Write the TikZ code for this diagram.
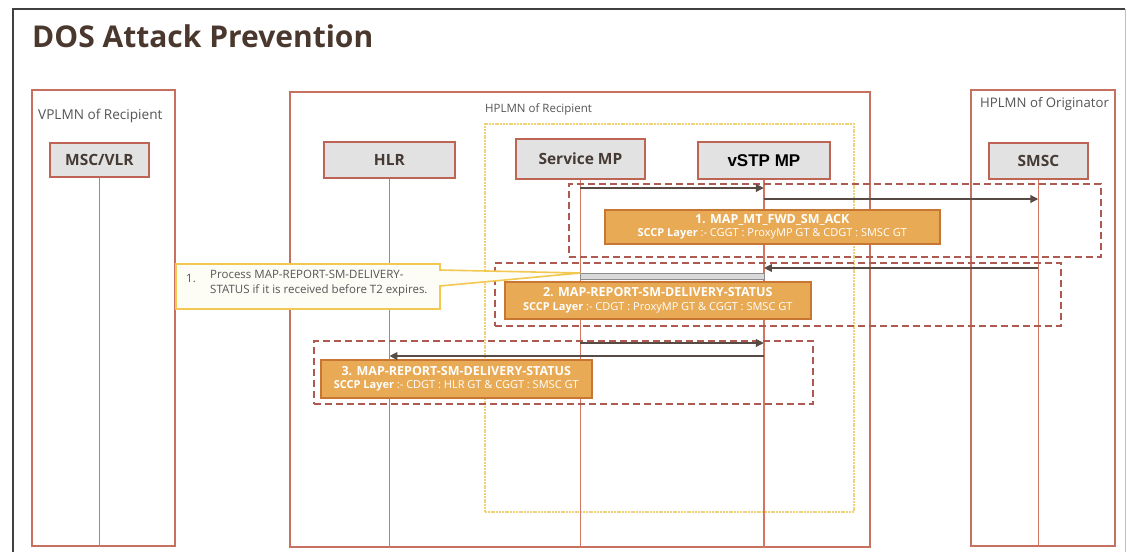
\documentclass[tikz,border=0pt]{standalone}
\usepackage{fontspec}
\setmainfont{Open Sans}
\newfontfamily\arialf{Liberation Sans}
\usetikzlibrary{arrows.meta}
\definecolor{regC}{RGB}{198,112,96}
\definecolor{lifeC}{RGB}{210,118,100}
\definecolor{actC}{RGB}{190,100,85}
\definecolor{actF}{RGB}{226,226,226}
\definecolor{actT}{RGB}{70,58,52}
\definecolor{dashC}{RGB}{175,90,80}
\definecolor{oraF}{RGB}{232,170,84}
\definecolor{oraB}{RGB}{200,118,52}
\definecolor{msgC}{RGB}{88,74,68}
\definecolor{titleC}{RGB}{74,56,46}
\definecolor{lblC}{RGB}{85,85,85}
\definecolor{yelC}{RGB}{240,210,120}
\definecolor{calF}{RGB}{253,252,245}
\definecolor{calB}{RGB}{242,200,80}
\tikzset{
  region/.style={draw=regC, line width=1.8pt, anchor=north west, inner sep=0pt},
  actor/.style={draw=actC, fill=actF, line width=1.8pt, anchor=north west, inner sep=0pt,
     font=\bfseries\fontsize{15.5}{17}\selectfont, text=actT},
  life/.style={draw=lifeC, line width=1.5pt},
  msg/.style={draw=msgC, line width=2.2pt, -{Triangle[length=8pt,width=7.5pt]}},
  dbox/.style={draw=dashC, line width=1.8pt, dash pattern=on 7pt off 4pt, anchor=north west, inner sep=0pt},
  obox/.style={draw=oraB, fill=oraF, line width=1.5pt, anchor=north west, inner sep=0pt,
     text=white, align=center},
  lbl/.style={text=lblC, inner sep=0pt, anchor=west},
}
\newcommand{\oline}[1]{{\bfseries\fontsize{12.5}{15}\selectfont #1}}
\newcommand{\sline}[1]{{\fontsize{11}{14}\selectfont #1}}
\begin{document}
\begin{tikzpicture}[x=1pt,y=-1pt]
\useasboundingbox (0,0) rectangle (1128,552);
\fill[white] (0,0) rectangle (1128,552);
% frame
\coordinate (fBL) at (13,552);
\coordinate (fTL) at (13,9);
\coordinate (fTR) at (1125,9);
\coordinate (fBR) at (1125,552);
\draw[black!75, line width=1.4pt] (fBL) -- (fTL) -- (fTR);
\draw[black!25, line width=0.8pt] (fTR) -- (fBR);
% title
\node[anchor=west, inner sep=0pt, text=titleC, font=\bfseries\fontsize{30}{34}\selectfont] (title) at (32,36) {DOS Attack Prevention};
% regions
\node[region, minimum width=143, minimum height=456] (vplmn) at (31,89) {};
\node[lbl, font=\fontsize{13.6}{15}\selectfont] (vplmnL) at (38,116) {VPLMN of Recipient};
\node[region, minimum width=580, minimum height=455] (hplmnR) at (289,91) {};
\node[lbl, font=\fontsize{11.5}{14}\selectfont] (hplmnRL) at (485,109) {HPLMN of Recipient};
\node[region, minimum width=144, minimum height=456] (hplmnO) at (970,89) {};
\node[lbl, font=\fontsize{13.2}{15}\selectfont] (hplmnOL) at (980,104) {HPLMN of Originator};
% yellow dotted box
\node[draw=yelC, line width=1.8pt, dash pattern=on 2pt off 0.8pt, anchor=north west, inner sep=0pt,
      minimum width=369, minimum height=388] (yel) at (484,123) {};
% actors
\node[actor, minimum width=99, minimum height=34] (msc) at (49,142) {MSC/VLR};
\node[actor, minimum width=131, minimum height=36] (hlr) at (323,141) {HLR};
\node[actor, minimum width=129, minimum height=40] (smp) at (515,138) {Service MP};
\node[actor, minimum width=132, minimum height=37, font=\arialf\bfseries\fontsize{17}{19}\selectfont, text=black] (vstp) at (697,141) {vSTP MP};
\node[actor, minimum width=99, minimum height=36] (smsc) at (988,142) {SMSC};
% lifelines
\coordinate (mscE) at (msc.south |- vplmn.south);
\coordinate (hlrE) at (hlr.south |- hplmnR.south);
\coordinate (smpE) at (smp.south |- hplmnR.south);
\coordinate (vstpE) at (vstp.south |- hplmnR.south);
\coordinate (smscE) at (smsc.south |- hplmnO.south);
\draw[life] (msc.south) -- (mscE);
\draw[life] (hlr.south) -- (hlrE);
\draw[life] (smp.south) -- (smpE);
\draw[life] (vstp.south) -- (vstpE);
\draw[life] (smsc.south) -- (smscE);
% dashed groups
\node[dbox, minimum width=532, minimum height=73] (d1) at (568,183) {};
\node[dbox, minimum width=566, minimum height=63] (d2) at (494,262) {};
\node[dbox, minimum width=499, minimum height=63] (d3) at (313,340) {};
% orange boxes
\node[obox, minimum width=335, minimum height=34] (o1) at (604,209) {\oline{1. MAP\_MT\_FWD\_SM\_ACK}\\[0.5pt]\sline{\textbf{SCCP Layer} :- CGGT : ProxyMP GT \& CDGT : SMSC GT}};
\node[obox, minimum width=306, minimum height=37] (o2) at (504,281) {\oline{2. MAP-REPORT-SM-DELIVERY-STATUS}\\[1.5pt]\sline{\textbf{SCCP Layer} :- CDGT : ProxyMP GT \& CGGT : SMSC GT}};
\node[obox, minimum width=271, minimum height=38] (o3) at (320,359) {\oline{3. MAP-REPORT-SM-DELIVERY-STATUS}\\[1.5pt]\sline{\textbf{SCCP Layer} :- CDGT : HLR GT \& CGGT : SMSC GT}};
% message y levels
\coordinate (y1a) at (0,188);
\coordinate (y1b) at (0,199);
\coordinate (y2a) at (0,268);
\coordinate (y2bt) at (0,273);
\coordinate (y2bb) at (0,279);
\coordinate (y3a) at (0,343);
\coordinate (y3b) at (0,356);
\draw[msg] (smp.south |- y1a) -- (vstp.south |- y1a);
\draw[msg] (vstp.south |- y1b) -- (smsc.south |- y1b);
\draw[msg] (smsc.south |- y2a) -- (vstp.south |- y2a);
\draw[draw=black!45, fill=black!15, line width=0.8pt] (smp.south |- y2bt) rectangle (vstp.south |- y2bb);
\draw[msg] (smp.south |- y3a) -- (vstp.south |- y3a);
\draw[msg] (vstp.south |- y3b) -- (hlr.south |- y3b);
% callout
\coordinate (tip) at (smp.south |- y2bt);
\coordinate (cTL) at (176,264);
\coordinate (cTR) at (440,264);
\coordinate (cP1) at (440,270);
\coordinate (cP2) at (440,286);
\coordinate (cBR) at (440,309);
\coordinate (cBL) at (176,309);
\draw[draw=calB, fill=calF, line width=1.6pt, line join=miter] (cTL) -- (cTR) -- (cP1) -- (tip) -- (cP2) -- (cBR) -- (cBL) -- cycle;
\node[lbl, font=\fontsize{11.5}{13}\selectfont] (cnum) at (186,278) {1.};
\node[lbl, font=\fontsize{11.5}{15}\selectfont, align=left, anchor=north west] (ctext) at (210,270) {Process MAP-REPORT-SM-DELIVERY-\\STATUS if it is received before T2 expires.};
\end{tikzpicture}
\end{document}
